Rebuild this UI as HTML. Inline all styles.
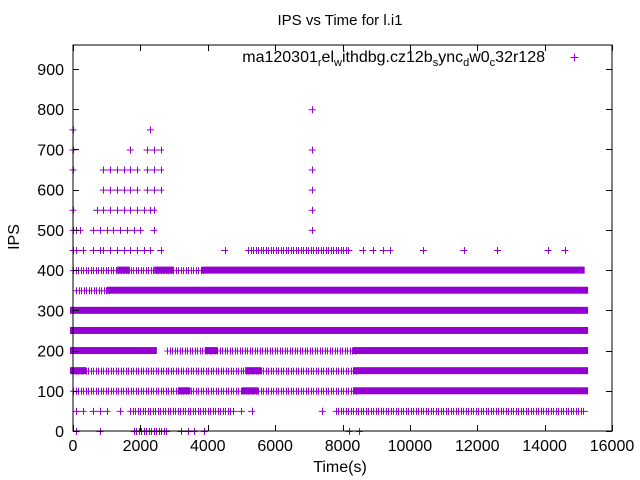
<!DOCTYPE html>
<html><head><meta charset="utf-8"><style>
body{margin:0;background:#fff}
svg{display:block;font-family:"Liberation Sans",sans-serif}
</style></head><body>
<svg id="chart" width="640" height="480">
<text x="340" y="25" font-size="15" text-anchor="middle">IPS vs Time for l.i1</text>
<g id="marks"></g>
<g id="axes"></g>
<rect x="73" y="45" width="539" height="386" fill="none" stroke="#000" stroke-width="1"/>
<text x="545" y="62" font-size="16" text-anchor="end">ma120301<tspan font-size="11" dy="4">r</tspan><tspan dy="-4">el</tspan><tspan font-size="11" dy="4">w</tspan><tspan dy="-4">ithdbg.cz12b</tspan><tspan font-size="11" dy="4">s</tspan><tspan dy="-4">ync</tspan><tspan font-size="11" dy="4">d</tspan><tspan dy="-4">w0</tspan><tspan font-size="11" dy="4">c</tspan><tspan dy="-4">32r128</tspan></text>
<path d="M570.5 57.5h8M574.5 53.5v8" stroke="#9400d3" stroke-width="1"/>
<text x="340" y="472" font-size="16" text-anchor="middle">Time(s)</text>
<text transform="translate(19,237) rotate(-90)" font-size="16" text-anchor="middle">IPS</text>
</svg>
<script>
const xTicks=[0,2000,4000,6000,8000,10000,12000,14000,16000];
const yTicks=[0,100,200,300,400,500,600,700,800,900];
// dense runs: [level, start, end]
const denseRuns=[[400,3900,15100],[400,2500,2900],[400,1400,1600],[350,1100,15200],[300,0,15200],[250,0,15200],[200,0,2400],[200,8400,15200],[150,5200,5500],[150,8400,15200],[100,8400,15200],[100,5100,5400],[200,4000,4200],[150,0,300],[100,3200,3400]];
// light (striped) runs: [level, start, end]
const lightRuns=[[400,0,3900],[350,100,1100],[200,2800,8400],[150,0,8400],[100,0,8400],[50,1700,4800],[50,7800,15200],[0,1800,2800],[450,5200,8200]];
// sparse single points: [level, time]
const sparsePts=[[0,100],[0,800],[0,3200],[0,3400],[0,3600],[0,3900],[0,8200],[0,8500],
[50,100],[50,300],[50,600],[50,800],[50,1000],[50,1400],[50,5000],[50,5300],[50,7400],
[450,0],[450,100],[450,300],[450,600],[450,800],[450,900],[450,1100],[450,1300],[450,1500],[450,1700],[450,1900],[450,2100],[450,2300],[450,2600],[450,4500],[450,8600],[450,8900],[450,9200],[450,9400],[450,10400],[450,11600],[450,12600],[450,14100],[450,14600],
[500,0],[500,100],[500,200],[500,600],[500,800],[500,1000],[500,1200],[500,1400],[500,1600],[500,1800],[500,2000],[500,2400],[500,7100],
[550,0],[550,700],[550,900],[550,1100],[550,1300],[550,1500],[550,1700],[550,1900],[550,2100],[550,2300],[550,2400],[550,7100],
[600,900],[600,1100],[600,1300],[600,1500],[600,1700],[600,1900],[600,2200],[600,2400],[600,2600],[600,7100],
[650,0],[650,900],[650,1100],[650,1300],[650,1500],[650,1700],[650,1900],[650,2200],[650,2400],[650,2600],[650,7100],
[700,0],[700,1700],[700,2200],[700,2400],[700,2600],[700,7100],
[750,0],[750,2300],[800,7100]];
const NS='http://www.w3.org/2000/svg';
const X0=73,X1=612,Y0=431,YT=69;
function sx(t){return X0+t*(X1-X0)/16000;}
function sy(v){return Y0-v*(Y0-YT)/900;}
const marks=document.getElementById('marks');
const axes=document.getElementById('axes');
const C='#9400d3';
function mk(tag,at,parent){const e=document.createElementNS(NS,tag);for(const k in at)e.setAttribute(k,at[k]);parent.appendChild(e);return e;}
for(const r of denseRuns){
  const e=mk('rect',{x:sx(r[1])-3,y:sy(r[0])-3.5,width:sx(r[2])-sx(r[1])+6,height:7,fill:C},marks);
  
  
}
for(const r of lightRuns){
  let d='M'+(sx(r[1])-3)+' '+(sy(r[0])+0.5)+'H'+(sx(r[2])+3);
  for(let px=sx(r[1]);px<=sx(r[2]);px+=2.5){d+='M'+(Math.round(px)+0.5)+' '+(sy(r[0])-3)+'v7';}
  const e=mk('path',{d:d,stroke:C,'stroke-width':1,fill:'none'},marks);
  
  
}
for(const p of sparsePts){
  const x=sx(p[1]),y=sy(p[0]);
  const e=mk('path',{d:'M'+(x-3.5)+' '+(y+0.5)+'h7M'+(Math.round(x)+0.5)+' '+(y-3)+'v7',stroke:C,'stroke-width':1},marks);
  
  
}
for(const t of xTicks){
  const x=Math.round(sx(t))+0.5;
  const l=mk('path',{d:'M'+x+' '+Y0+'v-6M'+x+' 45v6',stroke:'#000'},axes);
  
  
  const tx=mk('text',{x:sx(t),y:451,'font-size':16,'text-anchor':'middle'},axes);
  tx.textContent=t;
  
  
}
for(const v of yTicks){
  const y=Math.round(sy(v))+0.5;
  const l=mk('path',{d:'M73 '+y+'h6M612 '+y+'h-6',stroke:'#000'},axes);
  
  
  const tx=mk('text',{x:64,y:sy(v)+6,'font-size':16,'text-anchor':'end'},axes);
  tx.textContent=v;
  
  
}
</script>
</body></html>
